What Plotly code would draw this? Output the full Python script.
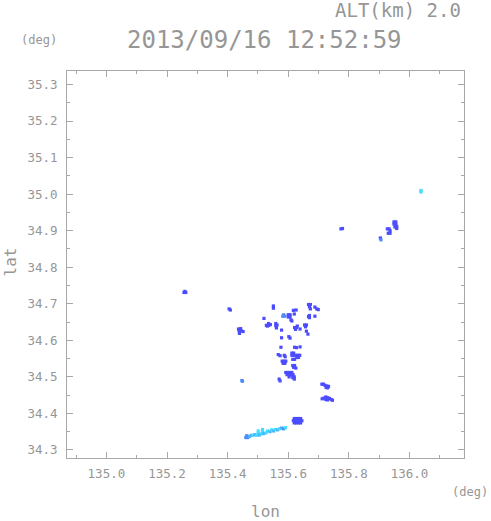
import plotly.graph_objects as go

# Radar echo cells at ALT 2.0 km (lon, lat, intensity level)
LON = [
    135.256, 135.262, 135.259,
    135.405, 135.409,
    135.436, 135.443, 135.438, 135.445, 135.451, 135.439,
    135.551, 135.551,
    135.520,
    135.528, 135.535, 135.541, 135.535, 135.531,
    135.559, 135.559, 135.561, 135.563,
    135.578, 135.578,
    135.582, 135.588, 135.585,
    135.600, 135.606, 135.600, 135.606,
    135.617, 135.626, 135.620,
    135.609, 135.612,
    135.667, 135.673, 135.670, 135.673,
    135.688, 135.694, 135.699,
    135.670, 135.670, 135.667,
    135.688,
    135.621, 135.627, 135.624,
    135.630, 135.639,
    135.654, 135.660, 135.657,
    135.660, 135.665,
    135.602, 135.606,
    135.576,
    135.567, 135.573, 135.587, 135.590,
    135.621, 135.627, 135.639,
    135.612, 135.618, 135.612, 135.618,
    135.625, 135.632, 135.638, 135.628, 135.634,
    135.615, 135.621,
    135.580, 135.586, 135.592, 135.583, 135.589,
    135.615, 135.621, 135.618, 135.625,
    135.592, 135.599, 135.606, 135.612, 135.596, 135.603, 135.610, 135.616, 135.603,
    135.615, 135.620, 135.620,
    135.570, 135.573,
    135.447, 135.449,
    135.711, 135.716, 135.721, 135.727, 135.733, 135.730, 135.725,
    135.712, 135.718, 135.724, 135.730, 135.736, 135.742, 135.724, 135.730, 135.746,
    135.620, 135.627, 135.634, 135.641,
    135.617, 135.624, 135.631, 135.638, 135.645,
    135.620, 135.627, 135.634, 135.641,
    135.460, 135.466, 135.463, 135.472, 135.478, 135.484, 135.490, 135.496,
    135.501, 135.501, 135.505, 135.512, 135.515, 135.515, 135.520, 135.527,
    135.532, 135.540, 135.545, 135.552, 135.558, 135.565, 135.572, 135.578,
    135.585, 135.591,
    135.949, 135.955, 135.949, 135.955, 135.958, 135.952, 135.958,
    135.927, 135.933, 135.936,
    135.930, 135.936,
    135.904, 135.906,
    135.774, 135.779,
    136.038, 136.038,
]
LAT = [
    34.731, 34.731, 34.734,
    34.686, 34.683,
    34.631, 34.632, 34.626, 34.626, 34.624, 34.619,
    34.694, 34.688,
    34.660,
    34.641, 34.641, 34.643, 34.646, 34.639,
    34.646, 34.640, 34.634, 34.642,
    34.628, 34.607,
    34.666, 34.666, 34.670,
    34.670, 34.670, 34.664, 34.664,
    34.682, 34.683, 34.672,
    34.656, 34.653,
    34.698, 34.698, 34.692, 34.686,
    34.691, 34.686, 34.684,
    34.668, 34.662, 34.665,
    34.666,
    34.635, 34.635, 34.630,
    34.639, 34.631,
    34.642, 34.642, 34.637,
    34.625, 34.617,
    34.610, 34.606,
    34.581,
    34.561, 34.558, 34.559, 34.555,
    34.581, 34.580, 34.582,
    34.565, 34.565, 34.559, 34.559,
    34.559, 34.559, 34.559, 34.553, 34.553,
    34.548, 34.548,
    34.543, 34.543, 34.543, 34.537, 34.537,
    34.531, 34.531, 34.526, 34.524,
    34.512, 34.512, 34.512, 34.512, 34.506, 34.506, 34.506, 34.506, 34.500,
    34.498, 34.494, 34.500,
    34.494, 34.489,
    34.490, 34.488,
    34.480, 34.480, 34.477, 34.475, 34.474, 34.470, 34.471,
    34.440, 34.442, 34.445, 34.443, 34.441, 34.438, 34.438, 34.437, 34.436,
    34.386, 34.386, 34.386, 34.386,
    34.380, 34.380, 34.380, 34.380, 34.380,
    34.374, 34.374, 34.374, 34.374,
    34.334, 34.334, 34.339, 34.337, 34.340, 34.340, 34.342, 34.340,
    34.346, 34.352, 34.341, 34.344, 34.350, 34.356, 34.345, 34.347,
    34.352, 34.350, 34.355, 34.352, 34.356, 34.355, 34.358, 34.360,
    34.358, 34.361,
    34.924, 34.924, 34.918, 34.918, 34.912, 34.910, 34.906,
    34.905, 34.905, 34.900,
    34.893, 34.893,
    34.880, 34.875,
    34.905, 34.906,
    35.010, 35.006,
]
LEVEL = [
    1, 1, 1,
    1, 1,
    1, 1, 1, 1, 1, 1,
    1, 1,
    1,
    1, 1, 1, 1, 1,
    1, 1, 1, 1,
    1, 1,
    2, 2, 2,
    1, 1, 1, 1,
    1, 1, 1,
    1, 1,
    1, 1, 1, 1,
    1, 1, 1,
    1, 1, 1,
    1,
    1, 1, 1,
    1, 1,
    1, 1, 1,
    1, 1,
    1, 1,
    1,
    1, 1, 1, 1,
    1, 1, 1,
    1, 1, 1, 1,
    1, 1, 1, 1, 1,
    1, 1,
    1, 1, 1, 1, 1,
    1, 1, 1, 1,
    1, 1, 1, 1, 1, 1, 1, 1, 1,
    1, 1, 1,
    1, 1,
    2, 2,
    1, 1, 1, 1, 1, 1, 1,
    1, 1, 1, 1, 1, 1, 1, 1, 1,
    1, 1, 1, 1,
    1, 1, 1, 1, 1,
    1, 1, 1, 1,
    2, 2, 2, 4, 4, 3, 4, 3,
    3, 3, 4, 3, 3, 3, 4, 3,
    3, 4, 3, 4, 3, 4, 3, 4,
    2, 3,
    1, 1, 1, 1, 1, 1, 1,
    1, 1, 1,
    1, 1,
    1, 2,
    1, 1,
    3, 3,
]

LEVEL_COLORS = {1: "#4c4cff", 2: "#4c8cff", 3: "#44dcff", 4: "#4cb4ff"}

X_TICKS = [135.0, 135.2, 135.4, 135.6, 135.8, 136.0]
Y_TICKS = [34.3, 34.4, 34.5, 34.6, 34.7, 34.8, 34.9, 35.0, 35.1, 35.2, 35.3]

TITLE = "2013/09/16 12:52:59"
ALT_TEXT = "ALT(km) 2.0"

GRAY = "#969696"
LINE = "#a8a8a8"
FONT = "DejaVu Sans Mono"

fig = go.Figure()
fig.add_trace(go.Scatter(
    x=LON, y=LAT, mode="markers",
    marker=dict(symbol="square", size=3.2,
                color=[LEVEL_COLORS[v] for v in LEVEL], line=dict(width=0)),
    hoverinfo="skip", showlegend=False,
))

axis_common = dict(
    showline=True, linecolor=LINE, linewidth=1, mirror="allticks",
    ticks="inside", ticklen=6, tickcolor=LINE, tickwidth=1,
    showgrid=False, zeroline=False,
    tickfont=dict(family=FONT, size=12.5, color=GRAY),
)
fig.update_xaxes(range=[134.87, 136.18], tickvals=X_TICKS,
                 ticktext=[f"{v:.1f}" for v in X_TICKS],
                 minor=dict(ticks="inside", ticklen=3, dtick=0.1, tick0=135.0,
                            tickcolor=LINE, showgrid=False),
                 ticklabelstandoff=4, **axis_common)
fig.update_yaxes(range=[34.278, 35.337], tickvals=Y_TICKS,
                 ticktext=[f"{v:.1f}" for v in Y_TICKS],
                 minor=dict(ticks="inside", ticklen=3, dtick=0.05, tick0=34.3,
                            tickcolor=LINE, showgrid=False),
                 ticklabelstandoff=6, **axis_common)

ann = [
    dict(text=TITLE, x=0.4975, y=1.080, font=dict(size=24, color=GRAY)),
    dict(text=ALT_TEXT, x=0.9975, y=1.158, xanchor="right", font=dict(size=19, color=GRAY)),
    dict(text="(deg)", x=-0.0705, y=1.080, font=dict(size=12, color=GRAY)),
    dict(text="(deg)", x=1.015, y=-0.088, font=dict(size=12, color=GRAY)),
    dict(text="lon", x=0.5, y=-0.137, font=dict(size=16, color=GRAY)),
    dict(text="lat", x=-0.143, y=0.506, textangle=-90, font=dict(size=16, color=GRAY)),
]
for a in ann:
    a.setdefault("xanchor", "center")
    a["font"]["family"] = FONT
    fig.add_annotation(xref="paper", yref="paper", showarrow=False, yanchor="middle", **a)

fig.update_layout(
    width=491, height=521,
    margin=dict(l=67, r=27, t=71, b=63),
    paper_bgcolor="white", plot_bgcolor="white",
)

fig.write_html(
    "out.html",
    config={"displayModeBar": False},
    post_script="document.body.style.margin='0';document.body.style.overflow='hidden';",
)
